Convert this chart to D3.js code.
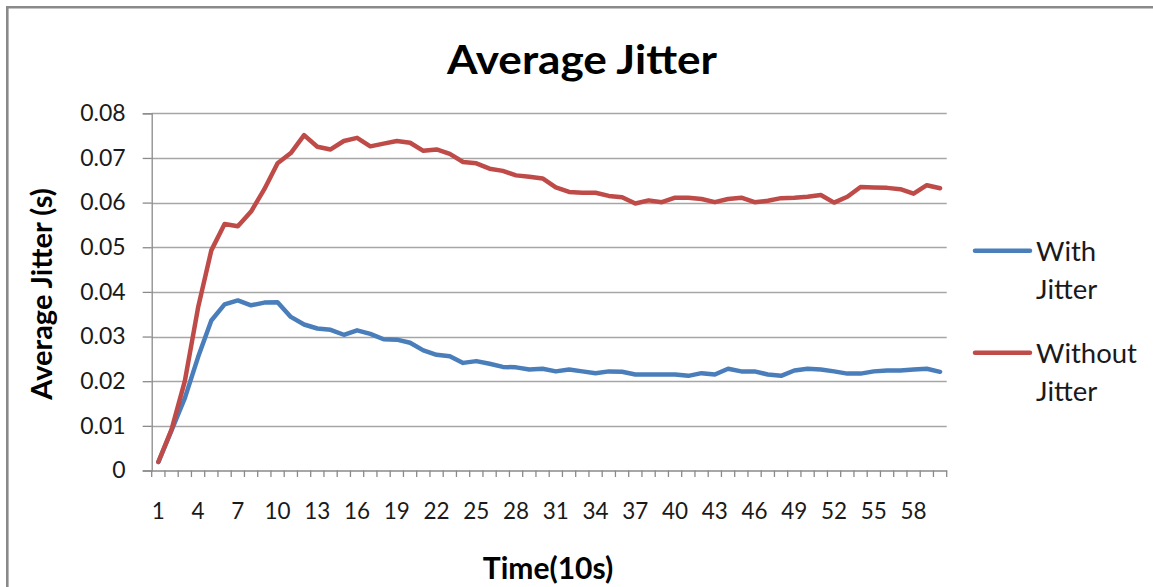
<!DOCTYPE html>
<html>
<head>
<meta charset="utf-8">
<script src="https://cdn.jsdelivr.net/npm/d3@7"></script>
<style>
  html, body { margin: 0; padding: 0; background: #fff; }
  svg { display: block; font-family: Lato, "Open Sans", sans-serif; }
</style>
</head>
<body>
<svg id="chart" width="1153" height="587"></svg>
<script>
const categories = [1,2,3,4,5,6,7,8,9,10,11,12,13,14,15,16,17,18,19,20,
  21,22,23,24,25,26,27,28,29,30,31,32,33,34,35,36,37,38,39,40,
  41,42,43,44,45,46,47,48,49,50,51,52,53,54,55,56,57,58,59,60];

const withJitter = [0.0019,0.0090,0.0162,0.0254,0.0336,0.0372,0.0381,0.0370,0.0376,0.0377,
  0.0344,0.0327,0.0318,0.0315,0.0304,0.0314,0.0306,0.0294,0.0293,0.0286,
  0.0269,0.0259,0.0256,0.0241,0.0245,0.0239,0.0232,0.0231,0.0226,0.0228,
  0.0222,0.0226,0.0222,0.0218,0.0222,0.0221,0.0215,0.0215,0.0215,0.0215,
  0.0212,0.0218,0.0215,0.0228,0.0222,0.0222,0.0215,0.0212,0.0224,0.0228,
  0.0226,0.0222,0.0217,0.0217,0.0222,0.0224,0.0224,0.0226,0.0228,0.0221];

const withoutJitter = [0.0019,0.0092,0.0200,0.0365,0.0493,0.0552,0.0547,0.0580,0.0630,0.0688,
  0.0711,0.0751,0.0725,0.0719,0.0738,0.0745,0.0726,0.0732,0.0738,0.0734,
  0.0716,0.0719,0.0709,0.0691,0.0688,0.0676,0.0671,0.0661,0.0658,0.0654,
  0.0634,0.0624,0.0622,0.0622,0.0615,0.0612,0.0598,0.0605,0.0601,0.0611,
  0.0611,0.0608,0.0601,0.0608,0.0611,0.0601,0.0604,0.0610,0.0611,0.0613,
  0.0617,0.0600,0.0613,0.0635,0.0634,0.0633,0.0630,0.0620,0.0639,0.0632];

const xTickLabels = [1,4,7,10,13,16,19,22,25,28,31,34,37,40,43,46,49,52,55,58];
const yTickValues = [0,0.01,0.02,0.03,0.04,0.05,0.06,0.07,0.08];
const seriesNames = ["With Jitter", "Without Jitter"];

const svg = d3.select("#chart");
const plotLeft = 151.7, plotRight = 946.7, plotTop = 113.3, plotBottom = 470.5;
const x = d3.scaleBand().domain(categories).range([plotLeft, plotRight]).padding(0);
const y = d3.scaleLinear().domain([0, 0.08]).range([plotBottom, plotTop]);
const color = d3.scaleOrdinal().domain(seriesNames).range(["#4A7EBB", "#BE4B48"]);

// outer frame (top and left edges visible)
svg.append("path")
  .attr("d", "M7.3,587 L7.3,7.3 L1153,7.3")
  .attr("fill", "none").attr("stroke", "#8a8a8a").attr("stroke-width", 2.6);

// gridlines
svg.append("g").selectAll("line").data(yTickValues.slice(1)).join("line")
  .attr("x1", plotLeft).attr("x2", plotRight)
  .attr("y1", d => Math.round(y(d)) + 0.5).attr("y2", d => Math.round(y(d)) + 0.5)
  .attr("stroke", "#a6a6a6").attr("stroke-width", 1.3);

// y axis
const yAxis = svg.append("g").attr("transform", `translate(${plotLeft},0)`)
  .call(d3.axisLeft(y).tickValues(yTickValues).tickSize(9).tickPadding(17)
    .tickFormat(d => d === 0 ? "0" : d3.format(".2f")(d)));
yAxis.select(".domain").attr("stroke", "#8a8a8a").attr("stroke-width", 1.3);
yAxis.selectAll(".tick line").attr("stroke", "#8a8a8a").attr("stroke-width", 1.3);
yAxis.selectAll(".tick text").attr("font-size", 23).attr("fill", "#1a1a1a")
  .attr("font-family", "Lato, sans-serif");

// x axis
const xAxis = svg.append("g").attr("transform", `translate(0,${plotBottom})`)
  .call(d3.axisBottom(x).tickValues(xTickLabels).tickSize(0).tickPadding(33));
xAxis.select(".domain").attr("stroke", "#8a8a8a").attr("stroke-width", 1.3);
xAxis.selectAll(".tick text").attr("font-size", 22.5).attr("fill", "#1a1a1a")
  .attr("font-family", "Lato, sans-serif");
// boundary tick marks
svg.append("g").selectAll("line").data(categories.concat(["end"])).join("line")
  .attr("x1", d => d === "end" ? plotRight : x(d))
  .attr("x2", d => d === "end" ? plotRight : x(d))
  .attr("y1", plotBottom).attr("y2", plotBottom + 6.5)
  .attr("stroke", "#8a8a8a").attr("stroke-width", 1.3);

// lines
const line = d3.line()
  .x((d, i) => x(categories[i]) + x.bandwidth() / 2)
  .y(d => y(d));
const seriesData = [withJitter, withoutJitter];
svg.append("g").selectAll("path").data(seriesData).join("path")
  .attr("d", d => line(d))
  .attr("fill", "none")
  .attr("stroke", (d, i) => color(seriesNames[i]))
  .attr("stroke-width", 4.5)
  .attr("stroke-linejoin", "round")
  .attr("stroke-linecap", "round");

// title
svg.append("text").attr("x", 582).attr("y", 74).attr("text-anchor", "middle")
  .attr("font-size", 40).attr("font-weight", "bold").attr("fill", "#000")
  .attr("textLength", 270).attr("lengthAdjust", "spacingAndGlyphs")
  .text("Average Jitter");

// axis titles
svg.append("text").attr("x", 548).attr("y", 579).attr("text-anchor", "middle")
  .attr("font-size", 30).attr("font-weight", "bold").attr("fill", "#000")
  .text("Time(10s)");
svg.append("text").attr("transform", "translate(52,294) rotate(-90)")
  .attr("text-anchor", "middle")
  .attr("font-size", 29).attr("font-weight", "bold").attr("fill", "#000")
  .text("Average Jitter (s)");

// legend
const legendY = [250.7, 352.7];
const lg = svg.append("g").selectAll("g").data(seriesNames).join("g")
  .attr("transform", (d, i) => `translate(975,${legendY[i]})`);
lg.append("line").attr("x1", 0).attr("x2", 55).attr("y1", 0).attr("y2", 0)
  .attr("stroke", d => color(d)).attr("stroke-width", 4.5).attr("stroke-linecap", "round");
const lt = lg.append("text").attr("x", 61).attr("font-size", 27.5).attr("fill", "#1a1a1a");
lt.append("tspan").attr("x", 61).attr("y", 10.5).text(d => d.split(" ")[0]);
lt.append("tspan").attr("x", 61).attr("y", 48).text(d => d.split(" ")[1]);
</script>
</body>
</html>
